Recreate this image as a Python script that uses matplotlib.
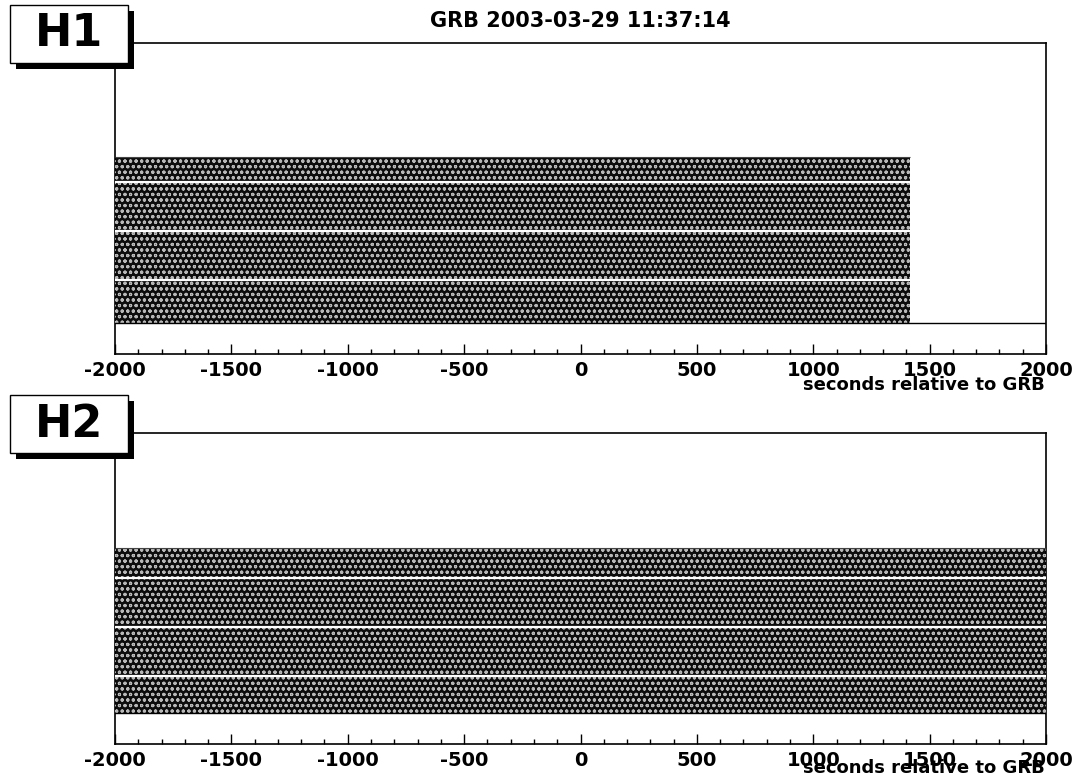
import matplotlib
matplotlib.use("Agg")
import matplotlib.pyplot as plt
from matplotlib.patches import Rectangle
from matplotlib.ticker import MultipleLocator

# ---- data ----
title = "GRB 2003-03-29 11:37:14"
detectors = ["H1", "H2"]
xlabel = "seconds relative to GRB"
x_range = (-2000, 2000)
# science segments (start, end) in seconds relative to GRB
segments_H1 = [(-2000, 1415)]
segments_H2 = [(-2000, 2000)]
# band boundaries (stacked levels) for each detector
levels_H1 = [0.0, 1.38, 2.955, 4.53, 5.33]
levels_H2 = [0.0, 1.19, 2.76, 4.34, 5.30]
segments = [segments_H1, segments_H2]
levels = [levels_H1, levels_H2]

W, H = 1077, 783
DPI = 100
plt.rcParams['font.family'] = ['DejaVu Sans']
plt.rcParams['hatch.linewidth'] = 0.8
plt.rcParams['hatch.color'] = '#b8b8b8'
fig = plt.figure(figsize=(W / DPI, H / DPI), dpi=DPI)

def fx(px):
    return px / W

def fy(py):
    return 1 - py / H

# axes boxes in pixels: (left, top, right, bottom)
ax_boxes = [(115, 43, 1046, 354), (115, 433, 1046, 744)]
label_boxes = [(10, 5, 128, 63), (10, 395, 128, 453)]
xlabel_base = [390, 773]

for i, det in enumerate(detectors):
    l, t, r, b = ax_boxes[i]
    ax = fig.add_axes([fx(l), fy(b), fx(r) - fx(l), fy(t) - fy(b)])
    ax.set_xlim(*x_range)
    ax.set_ylim(-1, 9)
    lv = levels[i]
    for (s, e) in segments[i]:
        for k in range(len(lv) - 1):
            ax.bar(s, lv[k + 1] - lv[k], bottom=lv[k], width=e - s, align='edge',
                   color='#0d0d0d', edgecolor='#0d0d0d', linewidth=0, zorder=2)
            ax.bar(s, lv[k + 1] - lv[k], bottom=lv[k], width=e - s, align='edge',
                   facecolor='none', edgecolor='#b8b8b8', linewidth=0, hatch='ooo', zorder=3)
        ax.hlines(lv[1:-1], s, e, colors='white', linewidth=1.6, zorder=4)
        ax.hlines([lv[-1]], s, e, colors='#444444', linewidth=0.8, zorder=4)
    ax.axhline(0, color='black', linewidth=1.0, zorder=5)
    for sp in ax.spines.values():
        sp.set_linewidth(1.2)
        sp.set_color('black')
    ax.xaxis.set_major_locator(MultipleLocator(500))
    ax.xaxis.set_minor_locator(MultipleLocator(100))
    ax.tick_params(axis='x', which='major', direction='in', length=7.5, width=1.0,
                   labelsize=14, pad=5, top=False)
    ax.tick_params(axis='x', which='minor', direction='in', length=3.8, width=1.0, top=False)
    ax.set_yticks([])
    ax.set_xticks(range(-2000, 2001, 500))
    ax.set_xticklabels([str(v) for v in range(-2000, 2001, 500)], fontweight='bold')
    fig.text(fx(1045), fy(xlabel_base[i]), xlabel, ha='right', va='baseline',
             fontsize=13, fontweight='bold')

    # detector label box with shadow
    bl, bt, br, bb = label_boxes[i]
    fig.add_artist(Rectangle((fx(bl + 6), fy(bb + 6)), fx(br) - fx(bl), fy(bt) - fy(bb),
                             transform=fig.transFigure, facecolor='black',
                             edgecolor='black', linewidth=0, zorder=10))
    fig.add_artist(Rectangle((fx(bl), fy(bb)), fx(br) - fx(bl), fy(bt) - fy(bb),
                             transform=fig.transFigure, facecolor='white',
                             edgecolor='black', linewidth=1.0, zorder=11))
    fig.text(fx((bl + br) / 2), fy((bt + bb) / 2), det, ha='center', va='center',
             fontsize=32, fontweight='bold', zorder=12)

fig.text(fx(580), fy(21), title, ha='center', va='center', fontsize=15, fontweight='bold')

fig.savefig("out.png", dpi=DPI)
